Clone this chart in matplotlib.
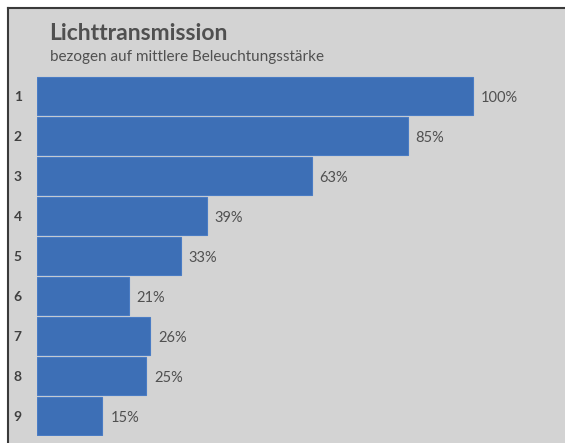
import matplotlib.pyplot as plt
from matplotlib.patches import Rectangle
from matplotlib.lines import Line2D

# Daten
kategorien = ["1", "2", "3", "4", "5", "6", "7", "8", "9"]
werte = [100, 85, 63, 39, 33, 21, 26, 25, 15]
beschriftung = ["100%", "85%", "63%", "39%", "33%", "21%", "26%", "25%", "15%"]

W, H = 565, 443
fig = plt.figure(figsize=(W / 100, H / 100), dpi=100, facecolor="white")
plt.rcParams['font.family'] = ['Lato', 'DejaVu Sans']

# grauer Hintergrund mit Rahmen links/oben
bg = "#d3d3d3"
fig.patches.append(Rectangle((8 / W, 0), 1 - 8 / W, 1 - 8 / H, transform=fig.transFigure,
                             facecolor=bg, edgecolor="none", zorder=-10))
fig.lines.append(Line2D([8 / W, 8 / W], [0, 1 - 8 / H], transform=fig.transFigure, color="#3a3a3a", lw=1.5))
fig.lines.append(Line2D([8 / W, 1], [1 - 8 / H, 1 - 8 / H], transform=fig.transFigure, color="#3a3a3a", lw=1.5))

# Achse: x 37..545 px, y 76..436 px
ax = fig.add_axes([37 / W, 1 - 436 / H, (545 - 37) / W, (436 - 76) / H])
ax.set_facecolor("none")
pos = list(range(len(kategorien)))
ax.barh(pos, werte, height=0.95, color="#3d6fb6", edgecolor="#4a7cc4", linewidth=0.8)
ax.set_ylim(len(kategorien) - 0.5, -0.5)
ax.set_xlim(0, 116.5)
ax.set_yticks(pos)
ax.set_yticklabels(kategorien, fontsize=10, fontweight="bold", color="#404040")
ax.tick_params(axis="y", length=0, pad=11)
ax.set_xticks([])
for s in ax.spines.values():
    s.set_visible(False)

for p, v, t in zip(pos, werte, beschriftung):
    ax.text(v + 1.8, p + 0.05, t, va="center", ha="left", fontsize=10.5, color="#505050")

fig.text(49 / W, 1 - 34 / H, "Lichttransmission", fontsize=16.5, fontweight="bold", color="#505050", va="center")
fig.text(50 / W, 1 - 57 / H, "bezogen auf mittlere Beleuchtungsstärke", fontsize=11, color="#505050", va="center")

fig.savefig("out.png", dpi=100, facecolor=fig.get_facecolor())
